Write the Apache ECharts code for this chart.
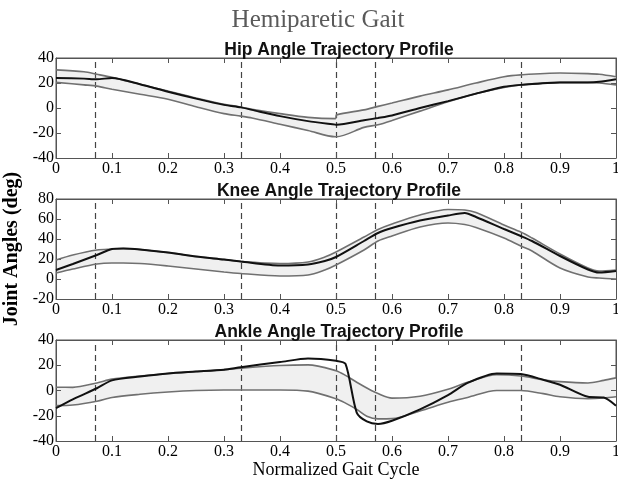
<!DOCTYPE html>
<html>
<head>
<meta charset="utf-8">
<script src="https://cdn.jsdelivr.net/npm/echarts@6/dist/echarts.min.js"></script>
<style>html,body{margin:0;padding:0;background:#fff}#c{width:618px;height:483px}</style>
</head>
<body>
<div id="c"></div>
<script>
// ---------- data ----------
const chartTitle = 'Hemiparetic Gait';
const panelTitles = ['Hip Angle Trajectory Profile', 'Knee Angle Trajectory Profile', 'Ankle Angle Trajectory Profile'];
const phaseLines = [0.073, 0.329, 0.5, 0.575, 0.829];
const xTicks = [0, 0.1, 0.2, 0.3, 0.4, 0.5, 0.6, 0.7, 0.8, 0.9, 1];

const hipX     = [0, 0.05, 0.073, 0.1, 0.15, 0.2, 0.25, 0.3, 0.33, 0.35, 0.4, 0.45, 0.499, 0.501, 0.55, 0.575, 0.6, 0.65, 0.7, 0.75, 0.8, 0.83, 0.9, 0.95, 0.97, 1.0];
const hipUpper = [30.5, 29, 27, 24.5, 19, 13.5, 8, 3, 0.8, -1, -4.5, -7.5, -8.5, -5.5, -1.5, 1.3, 4, 9.5, 14.5, 20, 25, 26.5, 28, 27.5, 27, 25];
const hipMean  = [24, 23.5, 23, 24, 19, 13, 7.5, 2.5, 0.5, -1.5, -6.5, -10.5, -13.3, -13.4, -9.8, -8, -6, 0, 5.5, 11.5, 17, 18.5, 20.5, 20.5, 21, 23];
const hipLower = [20.5, 18.5, 17.5, 15, 11, 7, 1, -4.5, -6.5, -8, -13, -18, -23, -23, -15.5, -13.4, -10, -2.5, 5, 11.5, 16.5, 18.5, 20.5, 20.5, 20, 18.5];

const kneeX     = [0, 0.03, 0.073, 0.1, 0.12, 0.15, 0.2, 0.25, 0.3, 0.33, 0.4, 0.45, 0.48, 0.5, 0.55, 0.575, 0.6, 0.65, 0.7, 0.73, 0.75, 0.8, 0.83, 0.85, 0.9, 0.95, 0.97, 1.0];
const kneeUpper = [19, 24, 29, 30, 30.5, 29.5, 26.5, 22.5, 19.5, 17.5, 15.5, 17, 22, 27, 42, 49.5, 55, 64, 69.5, 69, 66.5, 54, 47, 41, 25, 11, 8, 9];
const kneeMean  = [9, 15, 24, 30, 30.5, 29.5, 26.5, 22.5, 19.5, 17.5, 13.5, 14.5, 18, 22, 38, 46, 51, 58.5, 63.5, 66, 62, 50, 43, 38, 23, 9.5, 6.5, 8];
const kneeLower = [6, 10, 15, 16, 16, 15.5, 13, 10, 7, 5.5, 3, 4, 9, 14, 29, 38, 43, 52, 56, 54.5, 51.5, 41, 33, 28, 11, 2, 1, 0];

const ankleX     = [0, 0.03, 0.073, 0.1, 0.15, 0.2, 0.25, 0.3, 0.33, 0.4, 0.45, 0.5, 0.517, 0.537, 0.555, 0.575, 0.6, 0.65, 0.7, 0.735, 0.787, 0.83, 0.87, 0.9, 0.95, 0.978, 1.0];
const ankleUpper = [2.6, 2.5, 6, 9, 11.5, 13.5, 15, 16.5, 17.7, 19.8, 20.3, 15.7, 12, 6.5, 2, -2.4, -6, -4.5, 1, 6.5, 12.5, 11.5, 8.5, 7, 6, 8, 10];
const ankleMean  = [-14, -7, 1.8, 8, 11, 13.5, 15, 16.5, 18.5, 22.5, 25.4, 23.5, 21, -17.5, -24.5, -26.5, -24, -15, -3.7, 6, 13.5, 13, 8.5, 4.6, -5, -5.6, -12];
const ankleLower = [-12, -11.5, -8.5, -5.5, -3, -1.2, 0, 0.4, 0.4, 0.4, -0.5, -6.5, -10, -15, -20.4, -22.5, -22.3, -16.2, -9.3, -5.5, 0, 0, -2.5, -5, -6.5, -6, -5];

const yMins = [-40, -20, -40];
const yMaxs = [40, 80, 40];

// ---------- build ----------
const panels = [
  {x: hipX, up: hipUpper, mean: hipMean, low: hipLower},
  {x: kneeX, up: kneeUpper, mean: kneeMean, low: kneeLower},
  {x: ankleX, up: ankleUpper, mean: ankleMean, low: ankleLower}
];
const gridTops = [58, 199, 340];
const gridHeights = [100, 100, 101];
const serif = 'Liberation Serif';
const axisColor = '#555';

const option = {
  backgroundColor: '#fff',
  animation: false,
  title: [
    {text: chartTitle, left: 313, top: 3, textAlign: 'center',
     textStyle: {fontFamily: serif, fontSize: 25, fontWeight: 'normal', color: '#5a5a5a'}}
  ].concat(panelTitles.map((t, i) => ({
    text: t, left: 334, top: gridTops[i] - 22, textAlign: 'center',
    textStyle: {fontFamily: 'Liberation Sans', fontSize: 17.5, fontWeight: 'bold', color: '#111'}
  }))),
  grid: gridTops.map((t, i) => ({left: 56, width: 560, top: t, height: gridHeights[i], show: true,
    borderColor: axisColor, borderWidth: 1, z: 0, containLabel: false, outerBoundsMode: 'none'})),
  xAxis: [],
  yAxis: [],
  series: []
};

panels.forEach((p, i) => {
  option.xAxis.push({
    gridIndex: i, type: 'value', min: 0, max: 1, interval: 0.1, position: 'bottom', z: 5,
    axisLine: {show: true, onZero: false, lineStyle: {color: axisColor}},
    axisTick: {show: true, inside: true, length: 5, lineStyle: {color: axisColor}},
    axisLabel: {color: '#000', fontFamily: serif, fontSize: 16, margin: 3,
      formatter: v => String(Math.round(v * 10) / 10)},
    splitLine: {show: false},
    name: i === 2 ? 'Normalized Gait Cycle' : '', nameLocation: 'middle', nameGap: 20,
    nameTextStyle: {fontFamily: serif, fontSize: 18, color: '#000'}
  });
  option.xAxis.push({
    gridIndex: i, type: 'value', min: 0, max: 1, interval: 0.1, position: 'top', z: 5,
    axisLine: {show: true, onZero: false, lineStyle: {color: axisColor}},
    axisTick: {show: true, inside: true, length: 5, lineStyle: {color: axisColor}},
    axisLabel: {show: false}, splitLine: {show: false}
  });
  option.yAxis.push({
    gridIndex: i, type: 'value', min: yMins[i], max: yMaxs[i], interval: 20, position: 'left', z: 5,
    axisLine: {show: true, onZero: false, lineStyle: {color: axisColor}},
    axisTick: {show: true, inside: true, length: 5, lineStyle: {color: axisColor}},
    axisLabel: {color: '#000', fontFamily: serif, fontSize: 16, margin: 2},
    splitLine: {show: false},
    name: i === 1 ? 'Joint Angles (deg)' : '', nameLocation: 'middle', nameGap: 27,
    nameTextStyle: {fontFamily: serif, fontSize: 20, fontWeight: 'bold', color: '#000'}
  });
  option.yAxis.push({
    gridIndex: i, type: 'value', min: yMins[i], max: yMaxs[i], interval: 20, position: 'right', z: 5,
    axisLine: {show: true, onZero: false, lineStyle: {color: axisColor}},
    axisTick: {show: true, inside: true, length: 5, lineStyle: {color: axisColor}},
    axisLabel: {show: false}, splitLine: {show: false}
  });
  const xi = 2 * i, yi = 2 * i;
  const sm = 0.3;
  // band: grey fill under upper curve, then white fill under lower curve
  option.series.push({
    type: 'line', xAxisIndex: xi, yAxisIndex: yi,
    data: p.x.map((x, k) => [x, p.up[k]]), symbol: 'none', smooth: sm, silent: true,
    lineStyle: {opacity: 0}, areaStyle: {color: '#f0f0f0', opacity: 1, origin: 'start'}, z: 1
  });
  option.series.push({
    type: 'line', xAxisIndex: xi, yAxisIndex: yi,
    data: p.x.map((x, k) => [x, p.low[k]]), symbol: 'none', smooth: sm, silent: true,
    lineStyle: {opacity: 0}, areaStyle: {color: '#ffffff', opacity: 1, origin: 'start'}, z: 2
  });
  option.series.push({
    type: 'line', xAxisIndex: xi, yAxisIndex: yi,
    data: p.x.map((x, k) => [x, p.up[k]]), symbol: 'none', smooth: sm, silent: true,
    lineStyle: {color: '#707070', width: 1.6}, z: 6
  });
  option.series.push({
    type: 'line', xAxisIndex: xi, yAxisIndex: yi,
    data: p.x.map((x, k) => [x, p.low[k]]), symbol: 'none', smooth: sm, silent: true,
    lineStyle: {color: '#707070', width: 1.6}, z: 6
  });
  option.series.push({
    type: 'line', xAxisIndex: xi, yAxisIndex: yi,
    data: p.x.map((x, k) => [x, p.mean[k]]), symbol: 'none', smooth: 0.25, silent: true,
    lineStyle: {color: '#111', width: 2}, z: 7,
    markLine: {
      silent: true, symbol: ['none', 'none'], label: {show: false},
      lineStyle: {color: '#444', type: [6, 4], width: 1.2},
      data: phaseLines.map(v => ({xAxis: v}))
    }
  });
});

const chart = echarts.init(document.getElementById('c'), null, {renderer: 'canvas'});
chart.setOption(option);
</script>
</body>
</html>
